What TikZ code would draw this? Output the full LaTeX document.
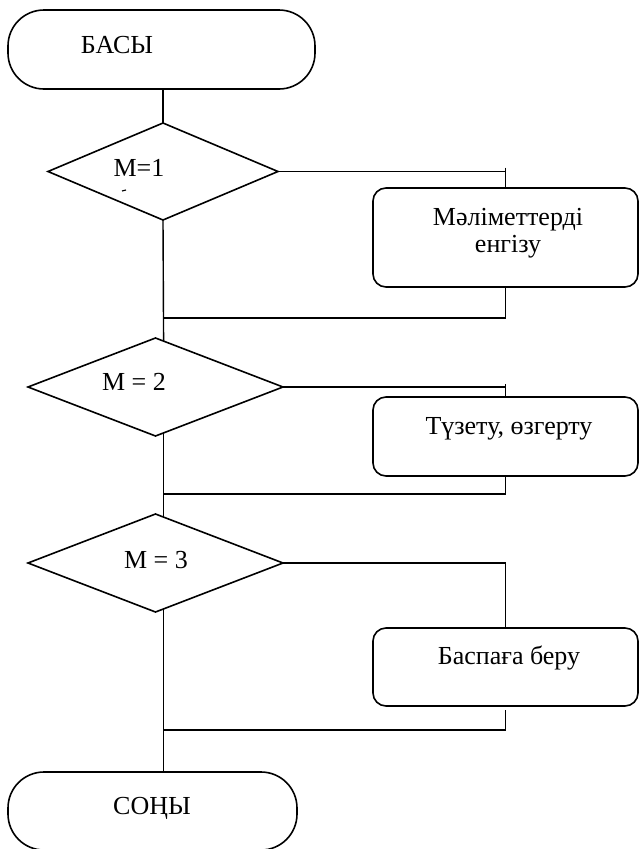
\documentclass[tikz,border=0pt]{standalone}
\usepackage{fontspec}
\setmainfont{Liberation Serif}
\usetikzlibrary{shapes.geometric,calc}
\begin{document}
\begin{tikzpicture}[x=1pt,y=-1pt,
  txt/.style={font=\fontsize{26}{29}\selectfont, inner sep=0pt, anchor=base},
  term/.style={draw, line width=1.6pt, rounded corners=36pt, inner sep=0pt, outer sep=0pt},
  dia/.style={draw, diamond, line width=1.6pt, inner sep=0pt, outer sep=0pt},
  procbox/.style={draw, line width=1.6pt, rounded corners=13pt, inner sep=0pt, outer sep=0pt},
  conn/.style={line width=1.4pt}]
\useasboundingbox (0,0) rectangle (639,849);

% terminals, decisions and process boxes
\node[term, minimum width=307, minimum height=79] (start) at (161.5,49.5) {};
\node[dia, minimum width=230, minimum height=97] (d1) at (163,171.5) {};
\node[procbox, minimum width=265, minimum height=99] (b1) at (505.5,237.5) {};
\node[dia, minimum width=255, minimum height=98] (d2) at (155.5,387) {};
\node[procbox, minimum width=265, minimum height=79] (b2) at (505.5,436.5) {};
\node[dia, minimum width=255, minimum height=98] (d3) at (155.5,563) {};
\node[procbox, minimum width=265, minimum height=78] (b3) at (505.5,667) {};
\node[term, minimum width=289, minimum height=78] (end) at (152.5,811) {};

% labels
\node[txt] (tstart) at (117,53) {БАСЫ};
\node[txt] (td1) at (139,176) {М=1};
\node[txt] (tb1a) at (508,225) {Мәліметтерді};
\node[txt] (tb1b) at (508,252) {енгізу};
\node[txt] (td2) at (134,390) {М = 2};
\node[txt] (tb2) at (509,434) {Түзету, өзгерту};
\node[txt] (td3) at (156,568) {М = 3};
\node[txt] (tb3) at (509,664) {Баспаға беру};
\node[txt] (tend) at (152,814) {СОҢЫ};
\draw[line width=1.2pt] (122,191) -- (126,190);

% junctions on the main trunk
\coordinate (j1) at (163,318);
\coordinate (j2) at (163,494);
\coordinate (j3) at (163,730);

% connectors
\draw[conn] (d1.north |- start.south) -- (d1.north);
\draw[conn] (d1.east) -- (d1.east -| b1.north);
\draw[conn] ($(d1.east -| b1.north)+(0,-4)$) -- (b1.north);
\draw[conn] (b1.south) |- (j1);
\draw[conn] (d1.south) -- (d2.80.8);

\draw[conn] (d2.east) -- (d2.east -| b2.north);
\draw[conn] ($(d2.east -| b2.north)+(0,-3)$) -- (b2.north);
\draw[conn] (b2.south) |- (j2);
\draw[conn] (d2.-80.8) -- (d3.80.8);

\draw[conn] (d3.east) -| (b3.north);
\draw[conn] ([yshift=-4pt]b3.south) |- (j3);
\draw[conn] (d3.-80.8) -- (d3.-80.8 |- end.north);
\end{tikzpicture}
\end{document}
